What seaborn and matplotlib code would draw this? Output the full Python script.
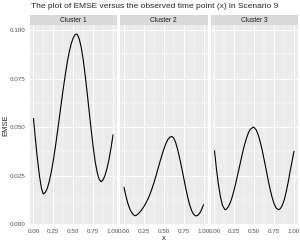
import numpy as np
import pandas as pd
import matplotlib
matplotlib.use("Agg")
import matplotlib.pyplot as plt
import seaborn as sns
from matplotlib.ticker import MultipleLocator

# ---- data ----
x_c1 = [0.000, 0.025, 0.050, 0.075, 0.100, 0.123, 0.150, 0.175, 0.200, 0.225, 0.250,
        0.275, 0.300, 0.325, 0.350, 0.375, 0.400, 0.425, 0.450, 0.475, 0.500, 0.525,
        0.540, 0.550, 0.575, 0.600, 0.625, 0.650, 0.675, 0.700, 0.725, 0.750, 0.775,
        0.800, 0.825, 0.851, 0.875, 0.900, 0.925, 0.950, 0.975, 1.000]
y_c1 = [0.0545, 0.0435, 0.0335, 0.0250, 0.0185, 0.0155, 0.0164, 0.0186, 0.0223, 0.0271,
        0.0330, 0.0397, 0.0471, 0.0547, 0.0625, 0.0700, 0.0771, 0.0835, 0.0889, 0.0931,
        0.0961, 0.0978, 0.0980, 0.0978, 0.0956, 0.0912, 0.0848, 0.0768, 0.0677, 0.0582,
        0.0487, 0.0400, 0.0324, 0.0268, 0.0231, 0.0218, 0.0228, 0.0252, 0.0288, 0.0335,
        0.0393, 0.0460]

x_c2 = [0.000, 0.025, 0.050, 0.075, 0.100, 0.125, 0.136, 0.150, 0.175, 0.200, 0.225,
        0.250, 0.275, 0.300, 0.325, 0.350, 0.375, 0.400, 0.425, 0.450, 0.475, 0.500,
        0.525, 0.550, 0.575, 0.600, 0.625, 0.650, 0.675, 0.700, 0.725, 0.750, 0.775,
        0.800, 0.825, 0.850, 0.875, 0.900, 0.925, 0.950, 0.975, 1.000]
y_c2 = [0.0190, 0.0143, 0.0105, 0.0076, 0.0057, 0.0046, 0.0043, 0.0044, 0.0051, 0.0062,
        0.0075, 0.0090, 0.0108, 0.0128, 0.0152, 0.0180, 0.0211, 0.0245, 0.0282, 0.0318,
        0.0353, 0.0385, 0.0413, 0.0435, 0.0448, 0.0452, 0.0444, 0.0420, 0.0384, 0.0340,
        0.0291, 0.0240, 0.0188, 0.0140, 0.0100, 0.0070, 0.0051, 0.0042, 0.0044, 0.0055,
        0.0074, 0.0100]

x_c3 = [0.000, 0.025, 0.050, 0.075, 0.100, 0.131, 0.150, 0.175, 0.200, 0.225, 0.250,
        0.275, 0.300, 0.325, 0.350, 0.375, 0.400, 0.425, 0.450, 0.487, 0.500, 0.525,
        0.550, 0.575, 0.600, 0.625, 0.650, 0.675, 0.700, 0.725, 0.750, 0.775, 0.805,
        0.825, 0.850, 0.875, 0.900, 0.925, 0.950, 0.975, 1.000]
y_c3 = [0.0379, 0.0283, 0.0203, 0.0140, 0.0097, 0.0074, 0.0077, 0.0090, 0.0112, 0.0143,
        0.0181, 0.0224, 0.0270, 0.0316, 0.0362, 0.0404, 0.0440, 0.0469, 0.0489, 0.0500,
        0.0498, 0.0485, 0.0460, 0.0424, 0.0381, 0.0331, 0.0279, 0.0227, 0.0179, 0.0137,
        0.0104, 0.0083, 0.0074, 0.0078, 0.0094, 0.0122, 0.0163, 0.0213, 0.0270, 0.0323,
        0.0376]

clusters = ["Cluster 1", "Cluster 2", "Cluster 3"]
x_ticks = [0.00, 0.25, 0.50, 0.75, 1.00]
x_tick_labels = ["0.00", "0.25", "0.50", "0.75", "1.00"]
y_ticks = [0.000, 0.025, 0.050, 0.075, 0.100]
y_tick_labels = ["0.000", "0.025", "0.050", "0.075", "0.100"]
title = "The plot of EMSE versus the observed time point (x) in Scenario 9"

frames = []
for name, xs, ys in zip(clusters, [x_c1, x_c2, x_c3], [y_c1, y_c2, y_c3]):
    frames.append(pd.DataFrame({"x": xs, "EMSE": ys, "cluster": name}))
df = pd.concat(frames, ignore_index=True)

sns.set_style("white")
plt.rcParams["font.family"] = ["Liberation Sans", "DejaVu Sans"]

W, H = 300, 245
fig = plt.figure(figsize=(W / 100, H / 100), dpi=100)

panel_left = 29.5
panel_w = 87.5
gap = 3.0
panel_top = 25.0
panel_bot = 225.0
strip_h = 10.0

ymin, ymax = df["EMSE"].min(), df["EMSE"].max()
yr = ymax - ymin
ylim = (ymin - 0.05 * yr, ymax + 0.05 * yr)
xmin, xmax = df["x"].min(), df["x"].max()
xr = xmax - xmin
xlim = (xmin - 0.05 * xr, xmax + 0.05 * xr)

for i, name in enumerate(clusters):
    l = panel_left + i * (panel_w + gap)
    ax = fig.add_axes([l / W, (H - panel_bot) / H, panel_w / W, (panel_bot - panel_top) / H])
    ax.set_facecolor("#EBEBEB")
    sub = df[df["cluster"] == name]
    sns.lineplot(data=sub, x="x", y="EMSE", ax=ax, color="black", linewidth=0.8,
                 sort=True, estimator=None)
    ax.set_xlim(*xlim)
    ax.set_ylim(*ylim)
    ax.set_xticks(x_ticks)
    ax.set_xticklabels(x_tick_labels)
    ax.xaxis.set_minor_locator(MultipleLocator(0.125))
    ax.set_yticks(y_ticks)
    ax.yaxis.set_minor_locator(MultipleLocator(0.0125))
    ax.grid(True, which="major", color="white", linewidth=0.7)
    ax.grid(True, which="minor", color="white", linewidth=0.35)
    ax.set_axisbelow(True)
    for s in ax.spines.values():
        s.set_visible(False)
    ax.tick_params(axis="both", which="major", length=2, width=0.5, color="#333333",
                   labelsize=4.5, labelcolor="#4D4D4D", pad=1)
    ax.tick_params(axis="both", which="minor", length=0)
    if i == 0:
        ax.set_yticklabels(y_tick_labels)
    else:
        ax.tick_params(axis="y", which="major", length=0, labelleft=False)
    ax.set_xlabel("")
    ax.set_ylabel("")
    # strip
    sax = fig.add_axes([l / W, (H - panel_top) / H, panel_w / W, strip_h / H])
    sax.set_facecolor("#D9D9D9")
    sax.set_xticks([])
    sax.set_yticks([])
    for s in sax.spines.values():
        s.set_visible(False)
    sax.text(0.5, 0.5, name, ha="center", va="center", fontsize=4.8, color="#1A1A1A",
             transform=sax.transAxes)

fig.text((panel_left + (3 * panel_w + 2 * gap) / 2) / W, 1 - 238 / H, "x",
         ha="center", va="center", fontsize=5.5)
fig.text(6 / W, 1 - 125 / H, "EMSE", ha="center", va="center", rotation=90, fontsize=5.5)
fig.text(panel_left / W + 0.005, 1 - 7 / H, title, ha="left", va="center", fontsize=6.0)

fig.savefig("out.png", dpi=100, facecolor="white")
